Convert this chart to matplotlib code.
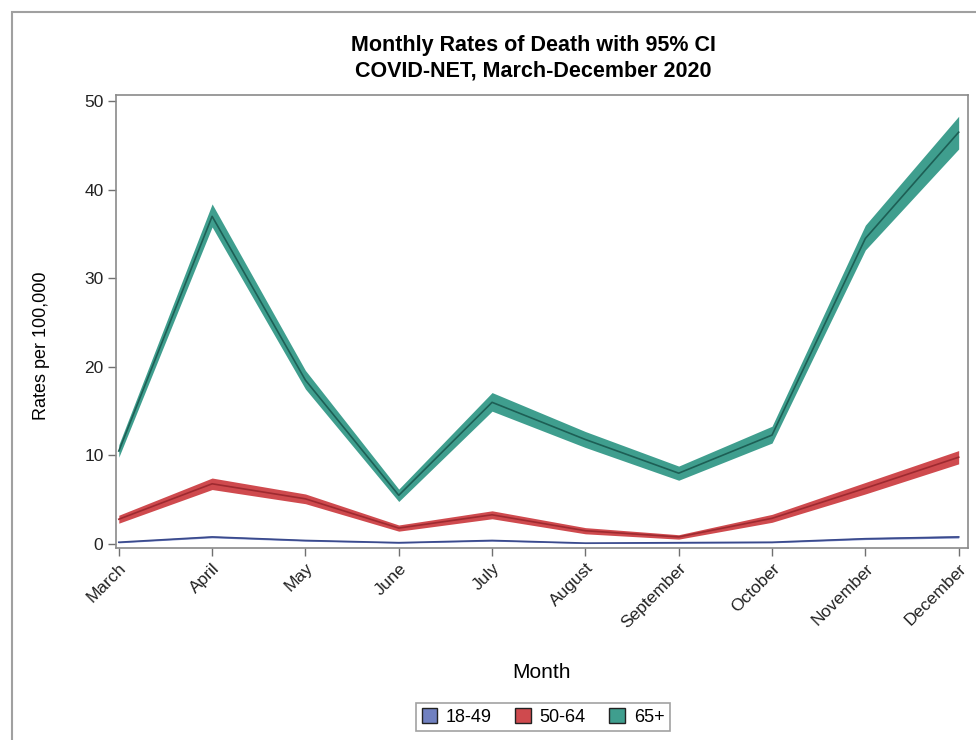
import numpy as np
import matplotlib.pyplot as plt
from matplotlib.patches import Rectangle, Patch

plt.rcParams['font.family'] = ['Liberation Sans', 'DejaVu Sans']

months = ["March", "April", "May", "June", "July", "August",
          "September", "October", "November", "December"]

# monthly death rates per 100,000 with 95% CI bounds
rate_18_49 = [0.2, 0.8, 0.4, 0.15, 0.4, 0.1, 0.15, 0.2, 0.6, 0.8]
lo_18_49 = [0.13, 0.7, 0.32, 0.09, 0.32, 0.05, 0.09, 0.13, 0.5, 0.68]
hi_18_49 = [0.27, 0.9, 0.48, 0.21, 0.48, 0.15, 0.21, 0.27, 0.7, 0.92]

rate_50_64 = [2.8, 6.8, 5.1, 1.8, 3.3, 1.5, 0.8, 2.9, 6.3, 9.8]
lo_50_64 = [2.35, 6.15, 4.55, 1.45, 2.85, 1.15, 0.55, 2.45, 5.65, 9.05]
hi_50_64 = [3.25, 7.45, 5.65, 2.15, 3.75, 1.85, 1.05, 3.35, 6.95, 10.55]

rate_65 = [10.5, 37.0, 18.5, 5.5, 16.0, 11.8, 8.0, 12.3, 34.5, 46.5]
lo_65 = [9.8, 35.8, 17.5, 4.8, 15.0, 10.9, 7.2, 11.4, 33.2, 44.6]
hi_65 = [11.2, 38.4, 19.6, 6.2, 17.1, 12.7, 8.8, 13.3, 36.0, 48.3]

x = np.arange(len(months))

fig = plt.figure(figsize=(9.76, 7.4), dpi=100)
ax = fig.add_axes([116 / 976, 1 - 548 / 740, 852 / 976, 453 / 740])

# outer frame around the whole graph
fig.patches.append(Rectangle((12 / 976, -0.1), 1.2, 1 - 12 / 740 + 0.1,
                             transform=fig.transFigure, fill=False,
                             edgecolor="#a0a0a0", linewidth=1.5))

series = [
    (rate_18_49, lo_18_49, hi_18_49, "#7080c0", "#3a4a8c", "18-49"),
    (rate_50_64, lo_50_64, hi_50_64, "#cf4a4e", "#9e2a30", "50-64"),
    (rate_65, lo_65, hi_65, "#3f9e8e", "#1d5f55", "65+"),
]
for rate, lo, hi, fill_c, line_c, name in series:
    ax.fill_between(x, lo, hi, color=fill_c, linewidth=0)
    ax.plot(x, rate, color=line_c, linewidth=1.2)

ax.set_xlim(-0.03, 9.1)
ax.set_ylim(-0.45, 50.7)
ax.set_yticks([0, 10, 20, 30, 40, 50])
ax.set_xticks(x)
ax.set_xticklabels(months, rotation=45, ha="right", rotation_mode="anchor")
ax.tick_params(axis="both", direction="out", length=6, width=1,
               color="#707070", labelsize=12.5, labelcolor="#222222", pad=3)
for sp in ax.spines.values():
    sp.set_color("#8a8a8a")
    sp.set_linewidth(1.2)

fig.text(533 / 976, 1 - 45 / 740, "Monthly Rates of Death with 95% CI",
         ha="center", va="center", fontsize=15.5, fontweight="bold")
fig.text(533 / 976, 1 - 71 / 740, "COVID-NET, March-December 2020",
         ha="center", va="center", fontsize=15.5, fontweight="bold")
fig.text(42 / 976, 1 - 346 / 740, "Rates per 100,000", rotation=90,
         ha="center", va="center", fontsize=13)
fig.text(541 / 976, 1 - 672 / 740, "Month", ha="center", va="center",
         fontsize=15)

handles = [Patch(facecolor=c, edgecolor="#222222", label=n)
           for _, _, _, c, _, n in series]
leg = fig.legend(handles=handles, loc="center", ncol=3,
                 bbox_to_anchor=(543 / 976, 1 - 717 / 740), fontsize=13,
                 frameon=True, fancybox=False, handlelength=0.85,
                 handleheight=0.85, handletextpad=0.5, columnspacing=1.3,
                 borderpad=0.3)
leg.get_frame().set_edgecolor("#8a8a8a")
leg.get_frame().set_linewidth(1.2)

fig.savefig("out.png", dpi=100)
